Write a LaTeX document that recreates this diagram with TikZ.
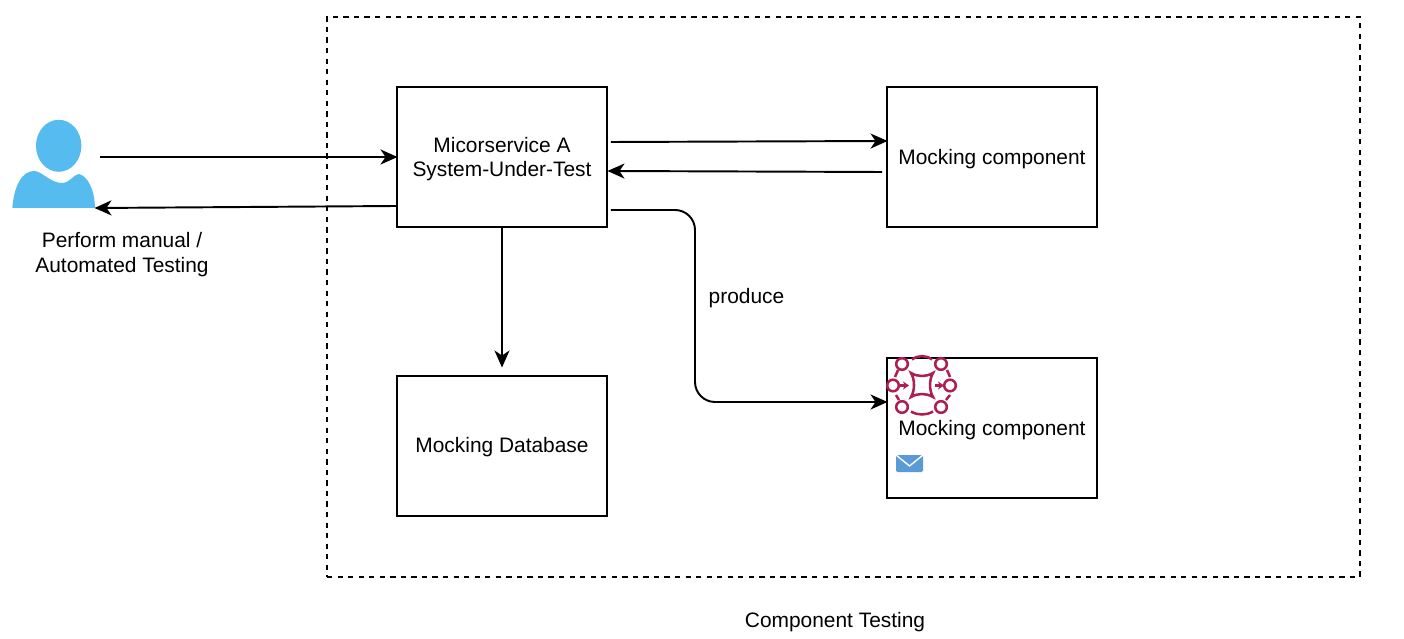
\documentclass[tikz,border=0pt]{standalone}
\usepackage{fontspec}
\setmainfont{Liberation Sans}
\usetikzlibrary{arrows.meta}
\definecolor{userblue}{HTML}{56BCF0}
\definecolor{mailblue}{HTML}{5A9BD5}
\definecolor{meshred}{HTML}{AD1F52}
\newcommand{\lowtext}[2][-0.5pt]{\raisebox{#1}[\height][\depth]{#2}}
\tikzset{
    box/.style = {draw, line width = 0.55pt, minimum width = 2.1cm, minimum height = 1.4cm, inner sep = 0pt, align = center, font = {\fontsize{5.95}{6.9}\selectfont}},
    caption/.style = {inner sep = 0pt, align = center, font = {\fontsize{5.95}{7.1}\selectfont}},
    link/.style = {line width = 0.55pt, shorten > = -0.015cm, -{Stealth[length = 1.7mm, width = 1.5mm, inset = 0.5mm]}},
    meshline/.style = {draw = meshred, line width = 0.72pt},
}

\begin{document}
\begin{tikzpicture}
    \useasboundingbox[fill = white] (0, 0) rectangle (14.04, 6.38);

    % outer frame
    \node[draw, line width = 0.5pt, dash pattern = on 1.5pt off 1.5pt, minimum width = 10.33cm, minimum height = 5.6cm, inner sep = 0pt] (frame) at (8.435, 3.41) {};

    % boxes
    \node[box] (micro) at (5.02, 4.81) {\lowtext{Micorservice A}\\\lowtext{System-Under-Test}};
    \node[box] (mockone) at (9.92, 4.81) {\lowtext{Mocking component}};
    \node[box] (mockdb) at (5.02, 1.92) {\lowtext[-0.2pt]{Mocking Database}};
    \node[box] (mocktwo) at (9.92, 2.10) {\lowtext{Mocking component}};

    % user
    \fill[userblue] (0.587, 4.922) ellipse (0.227 and 0.26);
    \fill[userblue] (0.123, 4.30) .. controls (0.14, 4.52) and (0.22, 4.67) .. (0.34, 4.67)
        .. controls (0.42, 4.67) and (0.50, 4.55) .. (0.62, 4.55)
        .. controls (0.70, 4.55) and (0.74, 4.64) .. (0.79, 4.64)
        .. controls (0.87, 4.62) and (0.945, 4.50) .. (0.95, 4.30) -- cycle;
    \coordinate (userin) at (1.00, 4.81);
    \coordinate (userout) at (0.96, 4.30);
    \node[caption] (usertext) at (1.22, 3.835) {Perform manual /\\Automated Testing};

    % mesh icon
    \foreach \x/\y in {9.02/2.74, 9.41/2.74, 8.93/2.525, 9.50/2.525, 9.02/2.31, 9.41/2.31}
        \draw[meshline] (\x, \y) circle (0.058);
    \draw[meshline] (9.11, 2.65) .. controls (9.15, 2.58) and (9.15, 2.48) .. (9.11, 2.41)
        .. controls (9.18, 2.45) and (9.26, 2.45) .. (9.33, 2.41)
        .. controls (9.29, 2.48) and (9.29, 2.58) .. (9.33, 2.65)
        .. controls (9.26, 2.61) and (9.18, 2.61) .. (9.11, 2.65) -- cycle;
    \draw[meshline] (9.12, 2.785) .. controls (9.18, 2.83) and (9.26, 2.83) .. (9.32, 2.785);
    \draw[meshline] (9.11, 2.265) .. controls (9.18, 2.225) and (9.26, 2.225) .. (9.33, 2.265);
    \draw[meshline] (8.98, 2.68) -- (8.95, 2.61);
    \draw[meshline] (9.47, 2.68) -- (9.50, 2.61);
    \draw[meshline] (8.96, 2.43) -- (8.99, 2.38);
    \draw[meshline] (9.50, 2.43) -- (9.46, 2.38);
    \draw[meshline, -{Stealth[length = 0.6mm, width = 0.8mm]}] (8.98, 2.525) -- (9.09, 2.525);
    \draw[meshline, -{Stealth[length = 0.6mm, width = 0.8mm]}] (9.35, 2.525) -- (9.44, 2.525);

    % mail icon
    \fill[mailblue, rounded corners = 0.4pt] (8.96, 1.66) rectangle (9.23, 1.83);
    \draw[white, line width = 0.4pt] (8.96, 1.83) -- (9.095, 1.72) -- (9.23, 1.83);

    % connectors
    \draw[link] (userin) -- (micro.west |- userin);
    \draw[link] ([yshift = -0.49cm]micro.west) -- (userout);
    \draw[link] ([xshift = 0.03cm, yshift = 0.15cm]micro.east) -- ([yshift = 0.16cm]mockone.west);
    \draw[link] ([xshift = -0.04cm, yshift = -0.15cm]mockone.west) -- ([xshift = 0.01cm, yshift = -0.14cm]micro.east);
    \draw[link, rounded corners = 0.2cm] ([xshift = 0.03cm, yshift = -0.53cm]micro.east) -| (6.95, 2.36) -- (mocktwo.west |- 6.95, 2.36);
    \draw[link] (micro.south) -- ([yshift = 0.09cm]mockdb.north);

    \node[caption] (producetext) at (7.465, 3.40) {produce};
    \node[caption] (frametext) at (8.35, 0.16) {Component Testing};
\end{tikzpicture}
\end{document}
